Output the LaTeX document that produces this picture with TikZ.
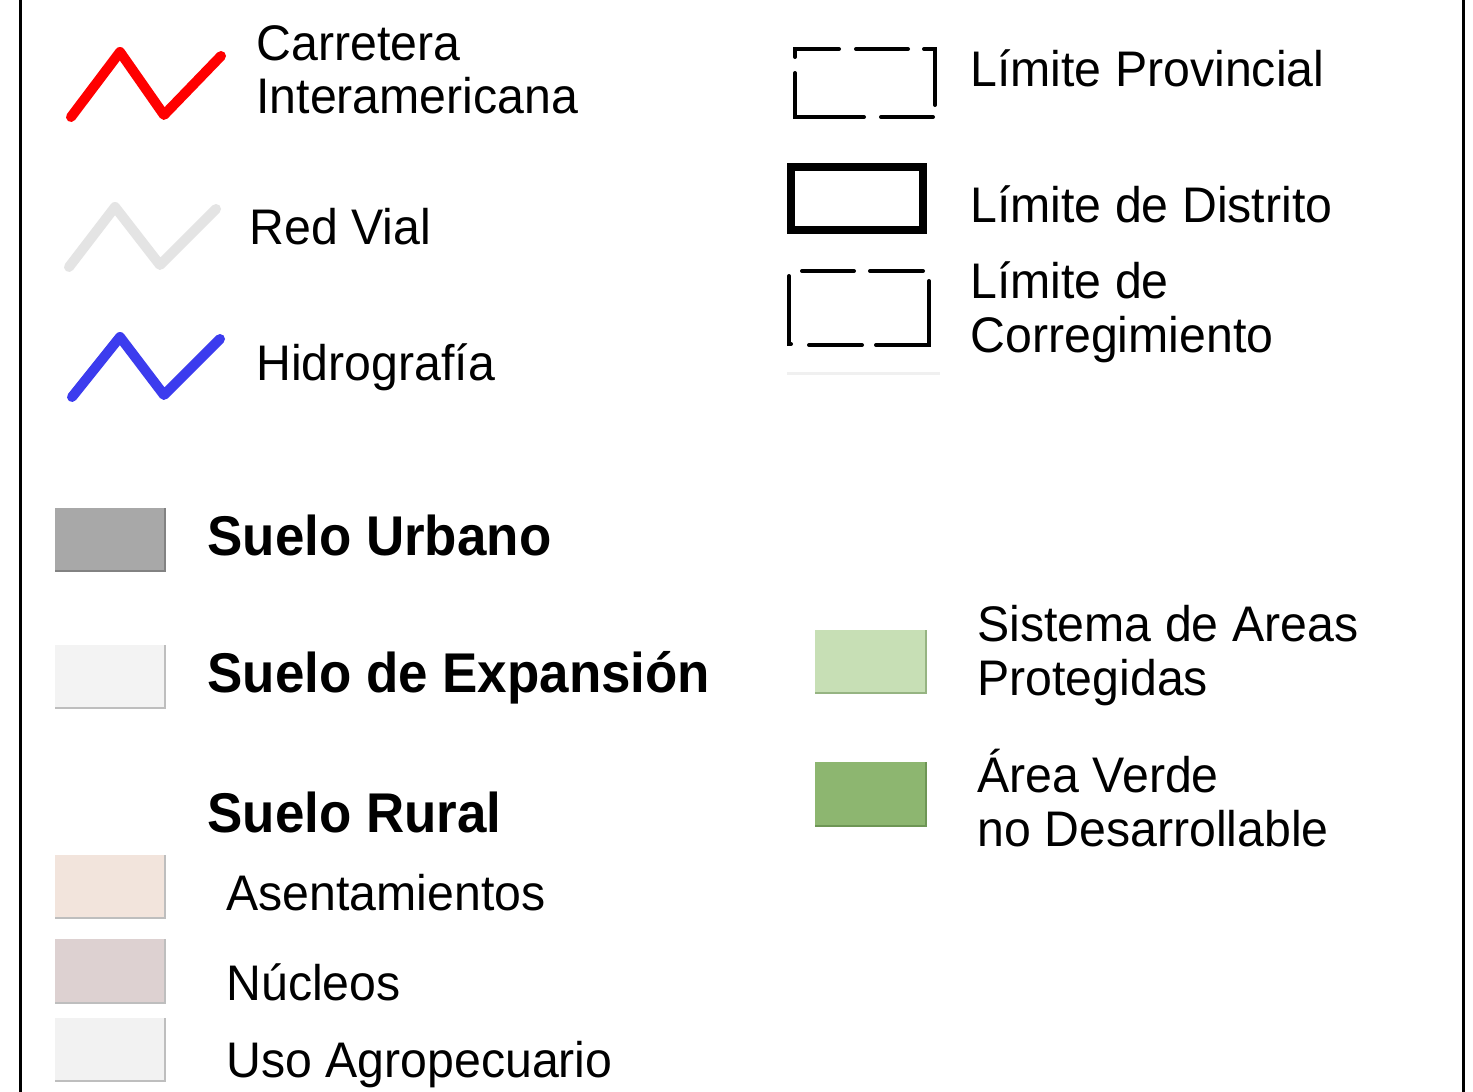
\documentclass[tikz,border=0pt]{standalone}
\usepackage{fontspec}
\setmainfont[FakeStretch=0.965]{Liberation Sans}
\newfontfamily\bfam[FakeStretch=0.945]{Liberation Sans}
\usetikzlibrary{calc}
\definecolor{roadred}{RGB}{255,0,0}
\definecolor{roadgray}{RGB}{228,228,228}
\definecolor{riverblue}{RGB}{60,60,238}
\definecolor{urbgray}{RGB}{168,168,168}
\definecolor{urbedge}{RGB}{130,130,130}
\definecolor{expfill}{RGB}{243,243,243}
\definecolor{lightedge}{RGB}{190,190,190}
\definecolor{asefill}{RGB}{242,228,220}
\definecolor{nucfill}{RGB}{221,209,209}
\definecolor{agrofill}{RGB}{242,242,242}
\definecolor{protfill}{RGB}{199,223,181}
\definecolor{protedge}{RGB}{150,180,130}
\definecolor{verdefill}{RGB}{141,182,112}
\definecolor{verdeedge}{RGB}{110,150,85}
\definecolor{faint}{RGB}{240,240,240}
\begin{document}
\begin{tikzpicture}[x=0.5pt,y=-0.5pt,
  lbl/.style={anchor=base west,inner sep=0pt,font=\fontsize{25}{27}\selectfont},
  blbl/.style={anchor=base west,inner sep=0pt,font=\bfam\fontsize{28}{30}\bfseries\selectfont},
  zig/.style={line width=5pt,line cap=round,line join=round},
  dbox/.style={line width=2pt,line cap=round,line join=miter},
  swatch/.style={draw=none}
]
\useasboundingbox (0,0) rectangle (1473,1092);
\fill[white] (0,0) rectangle (1473,1092);
% frame
\draw[line width=1.5pt] (20,0) -- (20,1092);
\draw[line width=1.5pt] (1463,0) -- (1463,1092);

% zigzags
\draw[zig,roadred] (71,117) -- (120,52) -- (164,115) -- (221,56);
\draw[zig,roadgray] (69,267) -- (115,207) -- (160,265) -- (216,209);
\draw[zig,riverblue] (72,397) -- (120,337) -- (164,395) -- (220,339);

\node[lbl] (carr) at (256,60) {\begin{tabular}[t]{@{}l@{}}Carretera\\Interamericana\end{tabular}};
\node[lbl] (red) at (249,244) {Red Vial};
\node[lbl] (hidro) at (256,380) {Hidrografía};

% Limite provincial (dashed box)
\draw[dbox] (795,57) -- (795,49) -- (839,49);
\draw[dbox] (856,49) -- (908,49);
\draw[dbox] (924,49) -- (935,49) -- (935,105);
\draw[dbox] (795,73) -- (795,117) -- (864,117);
\draw[dbox] (881,117) -- (933,117);
\node[lbl] (lprov) at (970,86) {Límite Provincial};

% Limite de distrito
\draw[line width=4pt] (791,167) rectangle (923,230);
\node[lbl] (ldist) at (970,222) {Límite de Distrito};

% Limite de corregimiento
\draw[dbox] (802,271) -- (854,271);
\draw[dbox] (870,271) -- (923,271);
\draw[dbox] (789,276) -- (789,344) -- (791,344);
\draw[dbox] (809,345) -- (862,345);
\draw[dbox] (876,345) -- (929,345) -- (929,281);
\draw[line width=1.5pt,faint] (787,373) -- (940,373);
\node[lbl] (lcorr) at (970,298) {\begin{tabular}[t]{@{}l@{}}Límite de\\Corregimiento\end{tabular}};

% land use swatches
\fill[urbgray] (55,508) rectangle (165,571);
\draw[urbedge,line width=1pt] (55,571) -- (165,571) -- (165,508);
\node[blbl] (surb) at (207,555) {Suelo Urbano};

\fill[expfill] (55,645) rectangle (165,708);
\draw[lightedge,line width=1pt] (55,708) -- (165,708) -- (165,645);
\node[blbl] (sexp) at (207,692) {Suelo de Expansión};

\node[blbl] (srur) at (207,832) {Suelo Rural};

\fill[asefill] (55,855) rectangle (165,918);
\draw[lightedge,line width=1pt] (55,918) -- (165,918) -- (165,855);
\node[lbl] (asent) at (226,910) {Asentamientos};

\fill[nucfill] (55,939) rectangle (165,1003);
\draw[lightedge,line width=1pt] (55,1003) -- (165,1003) -- (165,939);
\node[lbl] (nucl) at (226,1000) {Núcleos};

\fill[agrofill] (55,1018) rectangle (165,1081);
\draw[lightedge,line width=1pt] (55,1081) -- (165,1081) -- (165,1018);
\node[lbl] (agro) at (226,1077) {Uso Agropecuario};

\fill[protfill] (815,630) rectangle (926,693);
\draw[protedge,line width=1pt] (815,693) -- (926,693) -- (926,630);
\node[lbl] (prot) at (977,641) {\begin{tabular}[t]{@{}l@{}}Sistema de Areas\\Protegidas\end{tabular}};

\fill[verdefill] (815,762) rectangle (926,826);
\draw[verdeedge,line width=1pt] (815,826) -- (926,826) -- (926,762);
\node[lbl] (verde) at (977,792) {\begin{tabular}[t]{@{}l@{}}Área Verde\\no Desarrollable\end{tabular}};
\end{tikzpicture}
\end{document}
